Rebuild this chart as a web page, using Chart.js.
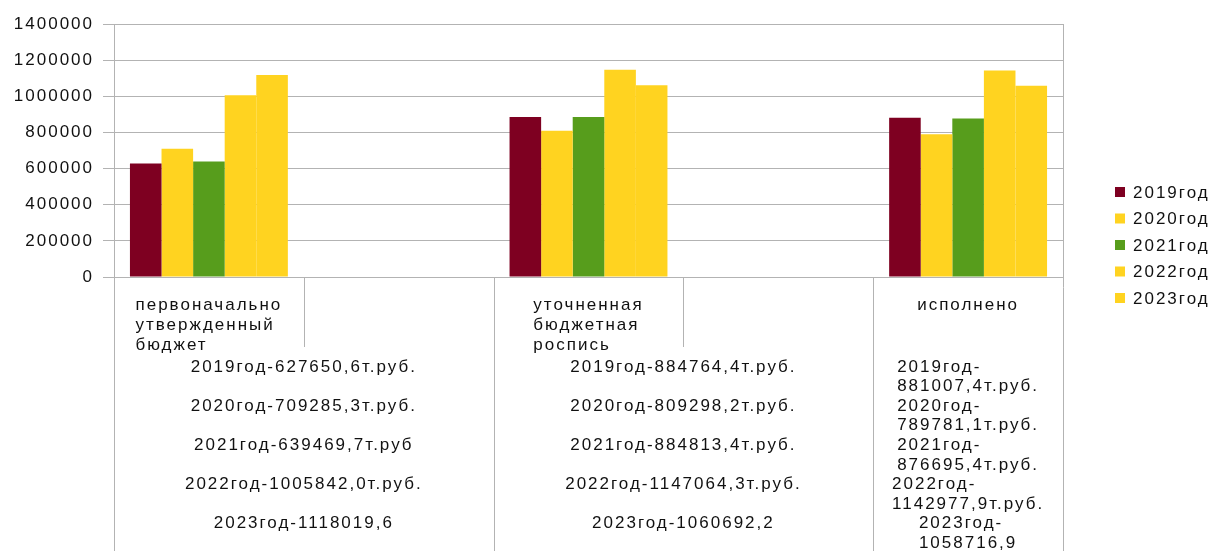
<!DOCTYPE html>
<html>
<head>
  <meta charset="UTF-8">
  <title>Исполнение бюджета</title>
  <script src="https://cdn.jsdelivr.net/npm/chart.js"></script>
  <style>
    body { margin: 0; background: #fff; }
    #wrap { width: 1216px; height: 551px; }
  </style>
</head>
<body>
  <div id="wrap"><canvas id="budgetChart"></canvas></div>

  <script>
    // Categories (first level of the x axis, two of them are empty)
    const categories = [
      ["первоначально", "утвержденный", "бюджет"],
      [],
      ["уточненная", "бюджетная", "роспись"],
      [],
      ["исполнено"]
    ];

    const years = ["2019год", "2020год", "2021год", "2022год", "2023год"];
    const colors = ["#7e0021", "#ffd320", "#579d1c", "#ffd320", "#ffd320"];

    // Values, тыс. руб.
    const values2019 = [627650.6, null, 884764.4, null, 881007.4];
    const values2020 = [709285.3, null, 809298.2, null, 789781.1];
    const values2021 = [639469.7, null, 884813.4, null, 876695.4];
    const values2022 = [1005842.0, null, 1147064.3, null, 1142977.9];
    const values2023 = [1118019.6, null, 1060692.2, null, 1058716.9];

    // Second level of the x axis: which categories each group spans, and its text
    const groupSpans = [[0, 2], [2, 4], [4, 5]];
    const groupTexts = [
      ["2019год-627650,6т.руб.", "", "2020год-709285,3т.руб.", "", "2021год-639469,7т.руб", "", "2022год-1005842,0т.руб.", "", "2023год-1118019,6"],
      ["2019год-884764,4т.руб.", "", "2020год-809298,2т.руб.", "", "2021год-884813,4т.руб.", "", "2022год-1147064,3т.руб.", "", "2023год-1060692,2"],
      ["2019год-881007,4т.руб.", "2020год-789781,1т.руб.", "2021год-876695,4т.руб.", "2022год-1142977,9т.руб.", "2023год-1058716,9"]
    ];

    const yMax = 1400000;
    const yStep = 200000;

    const FONT = '17px "Liberation Sans", Arial, sans-serif';
    const TEXT = "#111111";
    const LINE = "#b3b3b3";

    const allValues = [values2019, values2020, values2021, values2022, values2023];

    // letter spacing like the office renderer
    const spacingPlugin = {
      id: "spacing",
      beforeLayout(chart) { chart.ctx.letterSpacing = "2px"; },
      beforeDraw(chart) { chart.ctx.letterSpacing = "2px"; }
    };

    // wrap a paragraph after "-" if it does not fit
    function wrapLine(ctx, text, maxW) {
      if (ctx.measureText(text).width <= maxW) return [text];
      const i = text.indexOf("-");
      if (i < 0) return [text];
      return [text.slice(0, i + 1), text.slice(i + 1)];
    }

    // draw a block of lines: block centered at cx, lines left aligned
    function drawBlock(ctx, lines, cx, y0, lh) {
      const w = Math.max(...lines.map(l => ctx.measureText(l).width));
      const left = cx - w / 2;
      lines.forEach((l, k) => ctx.fillText(l, left, y0 + k * lh));
      return lines.length;
    }

    // multi level category axis under the plot + right border + legend
    const axisPlugin = {
      id: "multiAxis",
      afterDraw(chart) {
        const ctx = chart.ctx;
        const x = chart.scales.x;
        const area = chart.chartArea;
        const n = categories.length;
        const slot = x.width / n;
        const bound = i => x.left + i * slot;
        const bottom = chart.height;

        ctx.save();
        ctx.strokeStyle = LINE;
        ctx.lineWidth = 1;

        // right frame of the plot
        ctx.beginPath();
        ctx.moveTo(Math.round(area.right) + 0.5, area.top);
        ctx.lineTo(Math.round(area.right) + 0.5, bottom);
        ctx.stroke();

        // separators
        const groupEdges = new Set();
        groupSpans.forEach(s => { groupEdges.add(s[0]); groupEdges.add(s[1]); });
        for (let i = 0; i < n; i++) {
          const px = Math.round(bound(i)) + 0.5;
          const y2 = groupEdges.has(i) ? bottom : area.bottom + 70;
          ctx.beginPath();
          ctx.moveTo(px, area.bottom);
          ctx.lineTo(px, y2);
          ctx.stroke();
        }

        ctx.font = FONT;
        ctx.letterSpacing = "2px";
        ctx.fillStyle = TEXT;
        ctx.textAlign = "left";
        ctx.textBaseline = "middle";

        // first level labels
        categories.forEach((lines, i) => {
          if (!lines.length) return;
          drawBlock(ctx, lines, bound(i) + slot / 2, area.bottom + 28, 20);
        });

        // second level labels
        groupSpans.forEach((s, g) => {
          const cx = (bound(s[0]) + bound(s[1])) / 2;
          const maxW = bound(s[1]) - bound(s[0]) - 20;
          let y = area.bottom + 90;
          const lh = 19.6;
          groupTexts[g].forEach(p => {
            if (p === "") { y += lh; return; }
            const lines = wrapLine(ctx, p, maxW);
            if (lines.length === 1) {
              ctx.textAlign = "center";
              ctx.fillText(p, cx, y);
              ctx.textAlign = "left";
              y += lh;
            } else {
              y += drawBlock(ctx, lines, cx, y, lh) * lh;
            }
          });
        });

        // legend
        chart.data.datasets.forEach((ds, i) => {
          const cy = 192 + i * 26.5;
          ctx.fillStyle = ds.backgroundColor;
          ctx.fillRect(1115, cy - 5, 10, 10);
          ctx.fillStyle = TEXT;
          ctx.fillText(ds.label, 1133, cy + 1);
        });

        ctx.restore();
      }
    };

    const budgetChart = new Chart(document.getElementById("budgetChart").getContext("2d"), {
      type: "bar",
      data: {
        labels: categories.map(c => c.join(" ")),
        datasets: years.map((y, i) => ({
          label: y,
          data: allValues[i],
          backgroundColor: colors[i],
          borderWidth: 0,
          categoryPercentage: 0.832,
          barPercentage: 1.0
        }))
      },
      options: {
        responsive: true,
        maintainAspectRatio: false,
        animation: false,
        layout: { padding: { top: 24, right: 153, left: 0, bottom: 0 } },
        plugins: {
          legend: { display: false },
          tooltip: { enabled: false }
        },
        scales: {
          x: {
            grid: { display: false },
            border: { display: true, color: LINE },
            ticks: { display: false },
            afterFit(scale) { scale.height = 274; }
          },
          y: {
            min: 0,
            max: yMax,
            ticks: {
              stepSize: yStep,
              padding: 9,
              color: TEXT,
              font: { family: '"Liberation Sans", Arial, sans-serif', size: 17 },
              callback: v => String(v)
            },
            grid: { color: LINE, tickLength: 11 },
            border: { display: true, color: LINE },
            afterFit(scale) { scale.width = 114; }
          }
        }
      },
      plugins: [spacingPlugin, axisPlugin]
    });
  </script>
</body>
</html>
